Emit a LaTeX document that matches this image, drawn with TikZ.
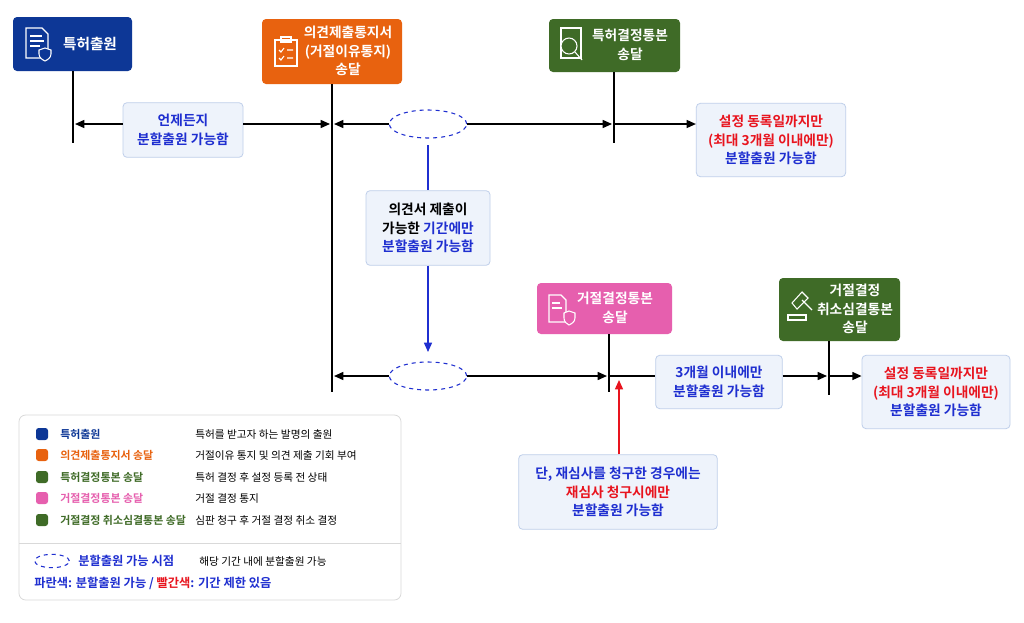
\documentclass[tikz,border=0pt]{standalone}
\usepackage{fontspec}
\setmainfont{Noto Sans CJK KR}[BoldFont={Noto Sans CJK KR Bold}]
\usetikzlibrary{arrows.meta,shapes.geometric}
\definecolor{cblue}{HTML}{0D3796}
\definecolor{corange}{HTML}{E8620F}
\definecolor{cgreen}{HTML}{3F6B27}
\definecolor{cpink}{HTML}{E65FAE}
\definecolor{tblue}{HTML}{1F2FD0}
\definecolor{tred}{HTML}{E8141E}
\definecolor{lfill}{HTML}{EEF3FB}
\definecolor{lborder}{HTML}{BFCFEA}
\begin{document}
\begin{tikzpicture}[x=0.75pt,y=-0.75pt,
  every node/.style={font=\fontsize{10.3}{14}\selectfont\bfseries},
  ev/.style={fill=#1, rounded corners=3pt, text=white, align=center},
  lbl/.style={fill=lfill, draw=lborder, rounded corners=3pt, align=center, line width=0.6pt, inner sep=0pt},
  tl/.style={line width=1.1pt},
  arr/.style={line width=1.1pt,-{Triangle[length=7pt,width=6pt]}},
  ell/.style={draw=tblue, dashed, line width=0.8pt, ellipse, minimum width=58pt, minimum height=21pt, inner sep=0pt, fill=white},
  ico/.style={draw=white, line width=0.8pt},
  lg/.style={font=\fontsize{8.2}{10}\selectfont\bfseries, anchor=west, inner sep=0pt},
  lgd/.style={font=\fontsize{8}{10}\selectfont, anchor=west, inner sep=0pt},
  sq/.style={rounded corners=2pt, minimum size=9pt, inner sep=0pt}
]
\useasboundingbox (0,0) rectangle (1024,622);
\fill[white] (0,0) rectangle (1024,622);
% event boxes
\path[ev=cblue] (13,17) rectangle (132,71);
\node[text=white,font=\fontsize{11}{14}\selectfont\bfseries] (e1) at (90,44) {특허출원};
\path[ev=corange] (262,19) rectangle (402,84);
\node[text=white,align=center] (e2) at (348,51) {의견제출통지서\\(거절이유통지)\\송달};
\path[ev=cgreen] (549,19) rectangle (680,72);
\node[text=white,align=center] (e3) at (630,45) {특허결정통본\\송달};
\path[ev=cpink] (537,283) rectangle (672,334);
\node[text=white,align=center] (e4) at (615,308) {거절결정통본\\송달};
\path[ev=cgreen] (779,278) rectangle (900,341);
\node[text=white,align=center] (e5) at (855,309) {거절결정\\취소심결통본\\송달};
% icons
\draw[ico] (26,28) -- (42,28) -- (48,34) -- (48,58) -- (26,58) -- cycle;
\draw[ico] (30,36)--(42,36) (30,41)--(44,41) (30,46)--(40,46);
\draw[ico,fill=cblue] (39,50) -- (45,48) -- (51,50) -- (51,54) .. controls (51,58) and (47,60) .. (45,61) .. controls (43,60) and (39,58) .. (39,54) -- cycle;
\draw[ico] (275,40) rectangle (297,66) (281,37) rectangle (291,42);
\draw[ico] (279,50)--(281,52)--(284,48) (287,50)--(293,50) (279,58)--(281,60)--(284,56) (287,58)--(293,58);
\draw[ico] (561,28) rectangle (581,58);
\draw[ico,fill=cgreen] (569,46) circle (6pt);
\draw[ico] (575,52)--(582,60);
\draw[ico] (549,295) -- (561,295) -- (566,300) -- (566,322) -- (549,322) -- cycle;
\draw[ico] (552,303)--(560,303) (552,308)--(562,308);
\draw[ico,fill=cpink] (564,313) -- (569,311) -- (575,313) -- (575,318) .. controls (575,322) and (571,324) .. (569,325) .. controls (567,324) and (564,322) .. (564,318) -- cycle;
\draw[ico] (792,303)--(802,292)--(808,298)--(797,309)--cycle (802,300)--(812,310);
\draw[ico] (788,315) rectangle (806,320);
% timeline lines
\draw[tl] (73,71) -- (73,143);
\draw[tl] (332,84) -- (332,392);
\draw[tl] (614,72) -- (614,143);
\draw[tl] (609,334) -- (609,392);
\draw[tl] (829,341) -- (829,395);
% row 1
\node[lbl,text=tblue,minimum width=90pt,minimum height=41pt] (l1) at (183,130) {언제든지\\분할출원 가능함};
\draw[arr] (l1.west |- 0,124) -- (75,124);
\draw[arr] (l1.east |- 0,124) -- (330,124);
\node[ell] (o1) at (428,124) {};
\draw[arr] (o1.west) -- (334,124);
\draw[arr] (o1.east) -- (612,124);
\node[lbl,text=tred,minimum width=112pt,minimum height=55pt] (l2) at (771,140) {설정 동록일까지만\\(최대 3개월 이내에만)\\\textcolor{tblue}{분할출원 가능함}};
\draw[arr] (614,124) -- (l2.west |- 0,124);
% vertical blue
\node[lbl,minimum width=93pt,minimum height=56pt] (l3) at (428,228) {의견서 제출이\\가능한 \textcolor{tblue}{기간에만}\\\textcolor{tblue}{분할출원 가능함}};
\draw[tblue,line width=1.1pt] (428,145) -- (l3.north);
\draw[arr,tblue] (l3.south) -- (428,352);
% row 2
\node[ell] (o2) at (428,376) {};
\draw[arr] (o2.west) -- (334,376);
\draw[arr] (o2.east) -- (607,376);
\node[lbl,text=tblue,minimum width=95pt,minimum height=40pt] (l4) at (719,382) {3개월 이내에만\\분할출원 가능함};
\draw[tl] (609,376) -- (l4.west |- 0,376);
\draw[arr] (l4.east |- 0,376) -- (827,376);
\node[lbl,text=tred,minimum width=111pt,minimum height=55pt] (l5) at (936,392) {설정 동록일까지만\\(최대 3개월 이내에만)\\\textcolor{tblue}{분할출원 가능함}};
\draw[arr] (829,376) -- (l5.west |- 0,376);
\node[lbl,text=tblue,minimum width=149pt,minimum height=56pt] (l6) at (618,492) {단, 재심사를 청구한 경우에는\\\textcolor{tred}{재심사 청구시에만}\\분할출원 가능함};
\draw[arr,tred] (l6.north -| 619,0) -- (619,380);
% legend
\draw[draw=black!15,fill=white,rounded corners=5pt,line width=0.6pt] (19,415) rectangle (401,600);
\draw[black!15,line width=0.6pt] (19,543) -- (401,543);
\node[sq,fill=cblue] (s1) at (42,434) {}; \node[lg,text=cblue] (t1) at (60,434) {특허출원}; \node[lgd] (d1) at (195,434) {특허를 받고자 하는 발명의 출원};
\node[sq,fill=corange] (s2) at (42,455) {}; \node[lg,text=corange] (t2) at (60,455) {의견제출통지서 송달}; \node[lgd] (d2) at (195,455) {거절이유 통지 및 의견 제출 기회 부여};
\node[sq,fill=cgreen] (s3) at (42,477) {}; \node[lg,text=cgreen] (t3) at (60,477) {특허결정통본 송달}; \node[lgd] (d3) at (195,477) {특허 결정 후 설정 등록 전 상태};
\node[sq,fill=cpink] (s4) at (42,498) {}; \node[lg,text=cpink] (t4) at (60,498) {거절결정통본 송달}; \node[lgd] (d4) at (195,498) {거절 결정 통지};
\node[sq,fill=cgreen] (s5) at (42,520) {}; \node[lg,text=cgreen] (t5) at (60,520) {거절결정 취소심결통본 송달}; \node[lgd] (d5) at (195,520) {심판 청구 후 거절 결정 취소 결정};
\node[ell,minimum width=26pt,minimum height=10pt] (s6) at (52,561) {};
\node[lg,text=tblue,font=\fontsize{9.2}{10}\selectfont\bfseries] (t6) at (78,561) {분할출원 가능 시점};
\node[lgd] (d6) at (199,561) {해당 기간 내에 분할출원 가능};
\node[lg,text=tblue,font=\fontsize{9.2}{10}\selectfont\bfseries] (t7) at (34,583) {파란색: 분할출원 가능 / \textcolor{tred}{빨간색}: 기간 제한 있음};
\end{tikzpicture}
\end{document}
